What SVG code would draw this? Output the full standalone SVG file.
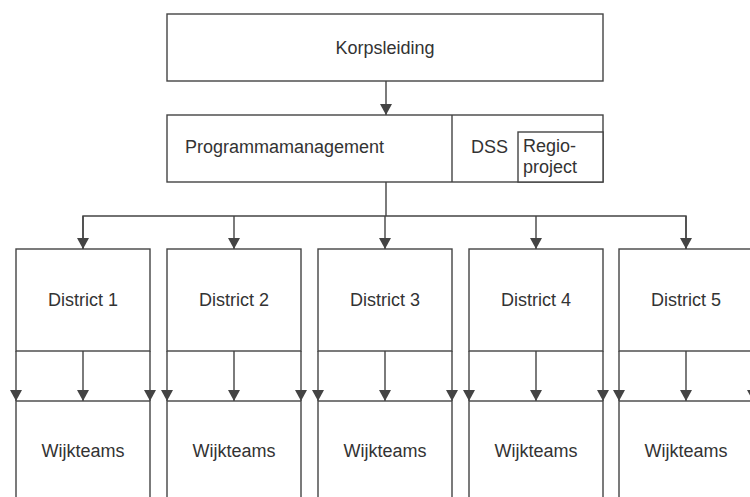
<svg xmlns="http://www.w3.org/2000/svg" width="750" height="497" viewBox="0 0 750 497">
  <style>
    .box { fill: #ffffff; stroke: #444444; stroke-width: 1.4; }
    .lbl { font-family: "Liberation Sans", Arial, sans-serif; font-size: 18px; fill: #333333; }
    .mid { text-anchor: middle; }
    .edge { fill: none; stroke: #444444; stroke-width: 1.4; }
  </style>
  <defs>
    <marker id="arrow" markerUnits="userSpaceOnUse" markerWidth="12" markerHeight="12" refX="11" refY="6" orient="auto">
      <path d="M0,0 L11,6 L0,12 Z" fill="#444444"/>
    </marker>
  </defs>

  <rect width="750" height="497" fill="#ffffff"/>

  <!-- top level -->
  <g id="korpsleiding">
    <rect class="box" x="167" y="14" width="436" height="67"/>
    <text class="lbl mid" x="385" y="54">Korpsleiding</text>
  </g>

  <g id="programmamanagement">
    <rect class="box" x="167" y="115" width="436" height="67"/>
    <line class="box" x1="452" y1="115" x2="452" y2="182"/>
    <text class="lbl" x="185" y="153">Programmamanagement</text>
    <text class="lbl" x="471" y="153">DSS</text>
  </g>

  <g id="regioproject">
    <rect class="box" x="518" y="132" width="85" height="50"/>
    <text class="lbl" x="523" y="152">Regio-</text>
    <text class="lbl" x="523" y="173">project</text>
  </g>

  <!-- districts -->
  <g id="district1">
    <rect class="box" x="16" y="249" width="134" height="102"/>
    <text class="lbl mid" x="83" y="306">District 1</text>
  </g>
  <g id="district2">
    <rect class="box" x="167" y="249" width="134" height="102"/>
    <text class="lbl mid" x="234" y="306">District 2</text>
  </g>
  <g id="district3">
    <rect class="box" x="318" y="249" width="134" height="102"/>
    <text class="lbl mid" x="385" y="306">District 3</text>
  </g>
  <g id="district4">
    <rect class="box" x="469" y="249" width="134" height="102"/>
    <text class="lbl mid" x="536" y="306">District 4</text>
  </g>
  <g id="district5">
    <rect class="box" x="619" y="249" width="134" height="102"/>
    <text class="lbl mid" x="686" y="306">District 5</text>
  </g>

  <!-- neighbourhood teams -->
  <g id="wijkteams1">
    <rect class="box" x="16" y="401" width="134" height="110"/>
    <text class="lbl mid" x="83" y="457">Wijkteams</text>
  </g>
  <g id="wijkteams2">
    <rect class="box" x="167" y="401" width="134" height="110"/>
    <text class="lbl mid" x="234" y="457">Wijkteams</text>
  </g>
  <g id="wijkteams3">
    <rect class="box" x="318" y="401" width="134" height="110"/>
    <text class="lbl mid" x="385" y="457">Wijkteams</text>
  </g>
  <g id="wijkteams4">
    <rect class="box" x="469" y="401" width="134" height="110"/>
    <text class="lbl mid" x="536" y="457">Wijkteams</text>
  </g>
  <g id="wijkteams5">
    <rect class="box" x="619" y="401" width="134" height="110"/>
    <text class="lbl mid" x="686" y="457">Wijkteams</text>
  </g>

  <!-- connectors -->
  <g id="connectors">
    <line class="edge" x1="386" y1="81" x2="386" y2="115" marker-end="url(#arrow)"/>
    <polyline class="edge" points="386,182 386,216"/>
    <polyline class="edge" points="83,249 83,216 686,216 686,249"/>
    <line class="edge" x1="83" y1="216" x2="83" y2="249" marker-end="url(#arrow)"/>
    <line class="edge" x1="234" y1="216" x2="234" y2="249" marker-end="url(#arrow)"/>
    <line class="edge" x1="385" y1="216" x2="385" y2="249" marker-end="url(#arrow)"/>
    <line class="edge" x1="536" y1="216" x2="536" y2="249" marker-end="url(#arrow)"/>
    <line class="edge" x1="686" y1="216" x2="686" y2="249" marker-end="url(#arrow)"/>

    <!-- district to teams -->
    <line class="edge" x1="16" y1="351" x2="16" y2="401" marker-end="url(#arrow)"/>
    <line class="edge" x1="83" y1="351" x2="83" y2="401" marker-end="url(#arrow)"/>
    <line class="edge" x1="150" y1="351" x2="150" y2="401" marker-end="url(#arrow)"/>

    <line class="edge" x1="167" y1="351" x2="167" y2="401" marker-end="url(#arrow)"/>
    <line class="edge" x1="234" y1="351" x2="234" y2="401" marker-end="url(#arrow)"/>
    <line class="edge" x1="301" y1="351" x2="301" y2="401" marker-end="url(#arrow)"/>

    <line class="edge" x1="318" y1="351" x2="318" y2="401" marker-end="url(#arrow)"/>
    <line class="edge" x1="385" y1="351" x2="385" y2="401" marker-end="url(#arrow)"/>
    <line class="edge" x1="452" y1="351" x2="452" y2="401" marker-end="url(#arrow)"/>

    <line class="edge" x1="469" y1="351" x2="469" y2="401" marker-end="url(#arrow)"/>
    <line class="edge" x1="536" y1="351" x2="536" y2="401" marker-end="url(#arrow)"/>
    <line class="edge" x1="603" y1="351" x2="603" y2="401" marker-end="url(#arrow)"/>

    <line class="edge" x1="619" y1="351" x2="619" y2="401" marker-end="url(#arrow)"/>
    <line class="edge" x1="686" y1="351" x2="686" y2="401" marker-end="url(#arrow)"/>
    <line class="edge" x1="753" y1="351" x2="753" y2="401" marker-end="url(#arrow)"/>
  </g>
</svg>
